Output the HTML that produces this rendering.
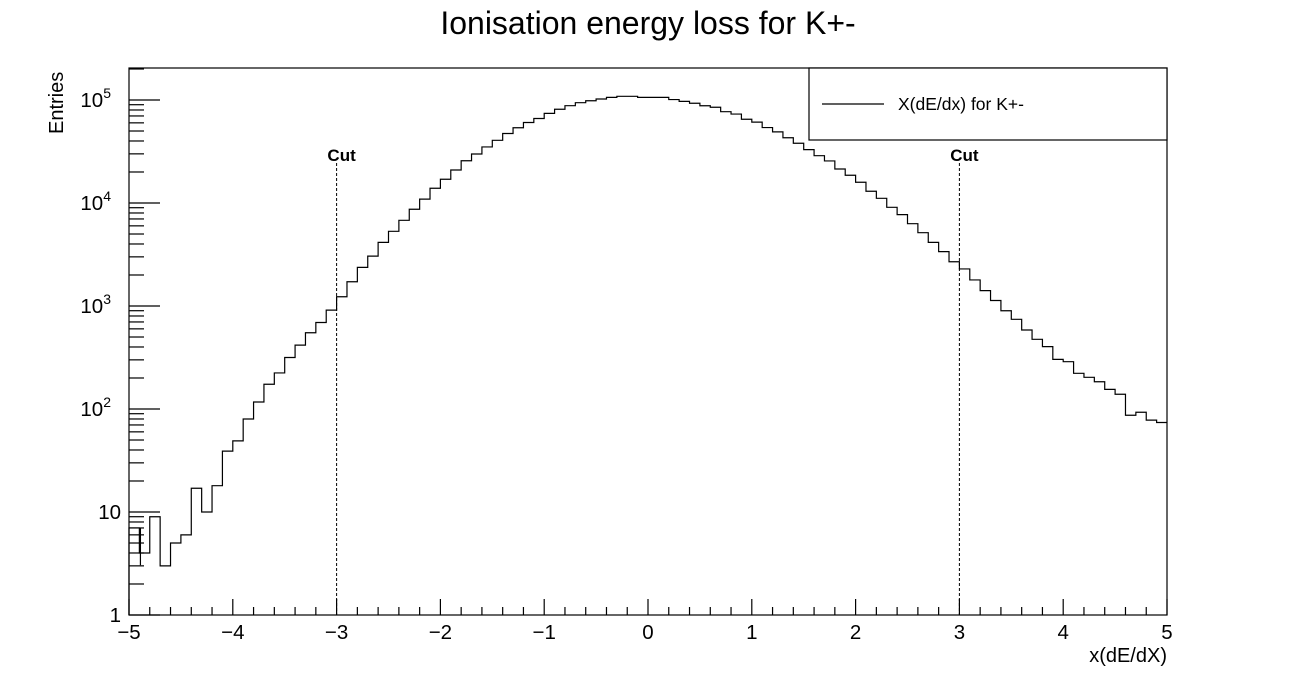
<!DOCTYPE html>
<html><head><meta charset="utf-8"><style>
html,body{margin:0;padding:0;background:#fff}
svg{display:block;font-family:"Liberation Sans",sans-serif}
</style></head><body>
<svg id="chart" width="1297" height="684" viewBox="0 0 1297 684">
<rect x="0" y="0" width="1297" height="684" fill="#fff"/>
<text x="648" y="34" font-size="32" text-anchor="middle">Ionisation energy loss for K+-</text>
<g id="axes"></g>
<path id="hist" fill="none" stroke="#000" stroke-width="1.2"/>
<g id="cuts"></g>
<g>
<rect x="809" y="68" width="358" height="72" fill="#fff" stroke="#000" stroke-width="1.2"/>
<line x1="822" y1="104" x2="884" y2="104" stroke="#000" stroke-width="1.2"/>
<text x="898" y="110" font-size="17.5">X(dE/dx) for K+-</text>
</g>
<text transform="translate(63,134) rotate(-90)" font-size="20">Entries</text>
<text x="1167" y="662" font-size="20" text-anchor="end">x(dE/dX)</text>
</svg>
<script>
const binEdgesRange = [-5, 5];
const counts = [7,4,9,3,5,6,17,10,18,39,49,80,117,174,224,316,417,550,692,912,
1230,1720,2370,3050,4150,5310,6790,8690,10900,13900,17000,20900,25700,29900,35000,40600,47300,53800,60500,66100,74100,81300,88100,94200,98400,102300,106100,108600,108600,106100,106100,106100,
101000,97000,93000,88000,85000,77000,73000,65000,61000,54000,49000,43000,38000,33000,28800,25600,21400,18600,15900,13000,11100,9080,7710,6300,5150,4150,3370,2690,2290,1790,1410,1130,900,743,585,475,403,303,288,222,203,184,155,139,87,93,78,74];
const xTicks = [-5,-4,-3,-2,-1,0,1,2,3,4,5];
const xTickLabels = ["\u22125","\u22124","\u22123","\u22122","\u22121","0","1","2","3","4","5"];
const yDecades = [0,1,2,3,4,5];
const cutPositions = [-3, 3];

const X0=129,X1=1167,Y0=615,YT=68,DEC=103;
const sx = v => X0 + (v - binEdgesRange[0])/(binEdgesRange[1]-binEdgesRange[0])*(X1-X0);
const sy = v => Y0 - Math.log10(Math.max(v,1))*DEC;
const NS="http://www.w3.org/2000/svg";
const axes=document.getElementById('axes');
function mk(tag,attrs,parent){const e=document.createElementNS(NS,tag);for(const k in attrs)e.setAttribute(k,attrs[k]);(parent||axes).appendChild(e);return e;}

const fr=mk('rect',{x:X0,y:YT,width:X1-X0,height:Y0-YT,fill:'none',stroke:'#000','stroke-width':1.2});



for(let v=-5;v<=5.0001;v+=0.2){
  const r=Math.round(v*10)/10, major=Math.abs(r-Math.round(r))<1e-6;
  const t=mk('line',{x1:sx(r),x2:sx(r),y1:Y0,y2:Y0-(major?16:8),stroke:'#000','stroke-width':1.2});
  
  
}
xTicks.forEach((v,i)=>{
  const t=mk('text',{x:sx(v),y:Y0+24,'font-size':20.5,'text-anchor':'middle'});
  t.textContent=xTickLabels[i];
  
  
});
yDecades.forEach(d=>{
  const y=sy(Math.pow(10,d));
  const t=mk('line',{x1:X0,x2:X0+31,y1:y,y2:y,stroke:'#000','stroke-width':1.2});
  
  
  for(let m=2;m<=9;m++){
    const yy=sy(m*Math.pow(10,d)); if(yy<YT) continue;
    const mt=mk('line',{x1:X0,x2:X0+15,y1:yy,y2:yy,stroke:'#000','stroke-width':1.2});
    
    
  }
  const lab=mk('text',{x:121,y:y+7,'font-size':20.5,'text-anchor':'end'});
  
  
  if(d===0) lab.textContent='1';
  else if(d===1) lab.textContent='10';
  else { lab.setAttribute('x',111); lab.textContent='10'; const s=mk('tspan',{dy:-9,'font-size':14},lab); s.textContent=String(d); }
});

const n=counts.length, w=(binEdgesRange[1]-binEdgesRange[0])/n;
let d='M'+sx(binEdgesRange[0])+','+Y0;
counts.forEach((c,i)=>{
  const xa=sx(binEdgesRange[0]+i*w), xb=sx(binEdgesRange[0]+(i+1)*w);
  d+=' L'+xa+','+sy(c)+' L'+xb+','+sy(c);
});
document.getElementById('hist').setAttribute('d',d);
const eb=mk('line',{x1:sx(-4.89),x2:sx(-4.89),y1:sy(counts[0]),y2:sy(counts[0]/2.3),stroke:'#000','stroke-width':1.2});



const cg=document.getElementById('cuts');
cutPositions.forEach(c=>{
  const l=mk('line',{x1:sx(c),x2:sx(c),y1:163,y2:Y0,stroke:'#000','stroke-width':1,'stroke-dasharray':'3,2'},cg);
  
  
  const t=mk('text',{x:sx(c)+5,y:161,'font-size':17,'font-weight':'bold','text-anchor':'middle'},cg);
  t.textContent='Cut';
  
  
});
</script>
</body></html>
